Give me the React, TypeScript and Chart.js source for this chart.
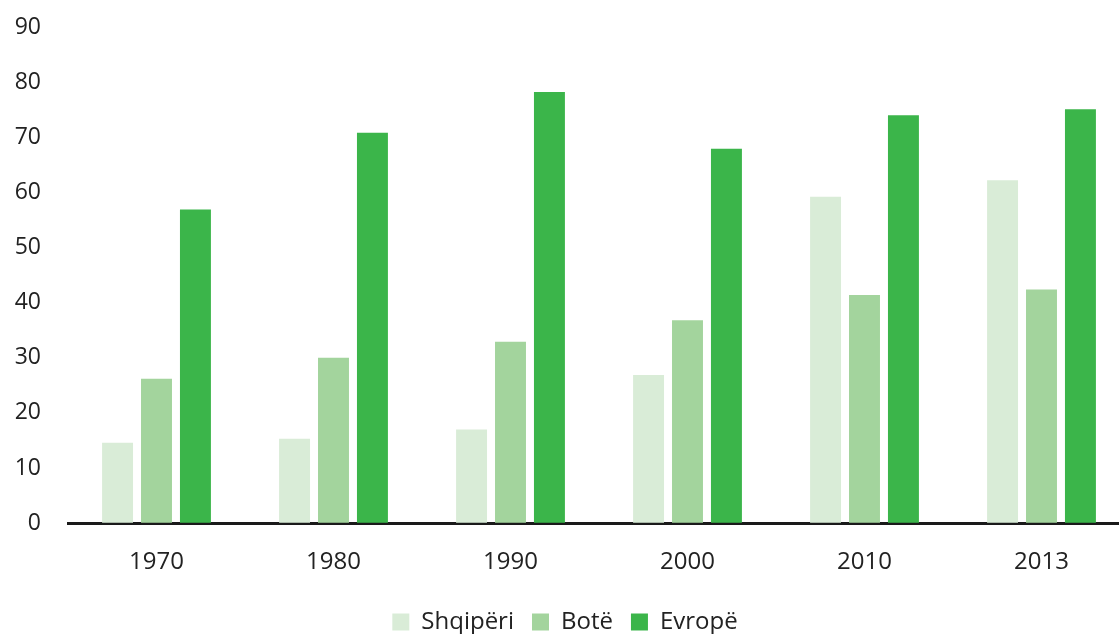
import React, { useEffect, useRef } from "react";
import { Chart, registerables } from "chart.js";

Chart.register(...registerables);

const categories = ["1970", "1980", "1990", "2000", "2010", "2013"];
const shqiperi = [14.6, 15.3, 17.0, 26.9, 59.2, 62.2];
const bote = [26.2, 30.0, 32.9, 36.8, 41.4, 42.4];
const evrope = [56.9, 70.8, 78.2, 67.9, 74.0, 75.1];
const yTicks = [0, 10, 20, 30, 40, 50, 60, 70, 80, 90];

const FONT = "'Open Sans', sans-serif";

export default function App() {
  const ref = useRef<HTMLCanvasElement>(null);
  useEffect(() => {
    if (!ref.current) return;
    const chart = new Chart(ref.current, {
      type: "bar",
      data: {
        labels: categories,
        datasets: [
          { label: "Shqipëri", data: shqiperi, backgroundColor: "#d9ecd7" },
          { label: "Botë", data: bote, backgroundColor: "#a3d49d" },
          { label: "Evropë", data: evrope, backgroundColor: "#3bb54a" },
        ],
      },
      options: {
        animation: false,
        responsive: false,
        maintainAspectRatio: false,
        layout: { padding: { top: 27, right: 0, left: 0, bottom: -10 } },
        datasets: { bar: { categoryPercentage: 0.66, barPercentage: 0.795 } },
        plugins: {
          tooltip: { enabled: false },
          legend: {
            position: "bottom",
            labels: {
              boxWidth: 17,
              boxHeight: 17,
              padding: 18,
              color: "#222",
              font: { family: FONT, size: 24 },
            },
          },
        },
        scales: {
          x: {
            afterFit: (s: any) => { s.height -= 10; },
            grid: { display: false, drawTicks: false },
            border: { display: true, color: "#1a1a1a", width: 3 },
            ticks: { color: "#222", padding: 25, font: { family: FONT, size: 24 } },
          },
          y: {
            min: 0,
            max: 90,
            afterFit: (s: any) => { s.width = 68; },
            afterBuildTicks: (s: any) => { s.ticks = yTicks.map((v) => ({ value: v })); },
            grid: { display: true, drawOnChartArea: false, drawTicks: true, tickLength: 26, color: "rgba(0,0,0,0)" },
            border: { display: false },
            ticks: { color: "#222", padding: 1, font: { family: FONT, size: 23 } },
          },
        },
      },
    });
    return () => chart.destroy();
  }, []);
  return (
    <div style={{ position: "absolute", left: 0, top: 0, width: 1119, height: 634, background: "#fff", overflow: "hidden" }}>
      <canvas ref={ref} width={1130} height={634} style={{ display: "block" }} />
    </div>
  );
}
